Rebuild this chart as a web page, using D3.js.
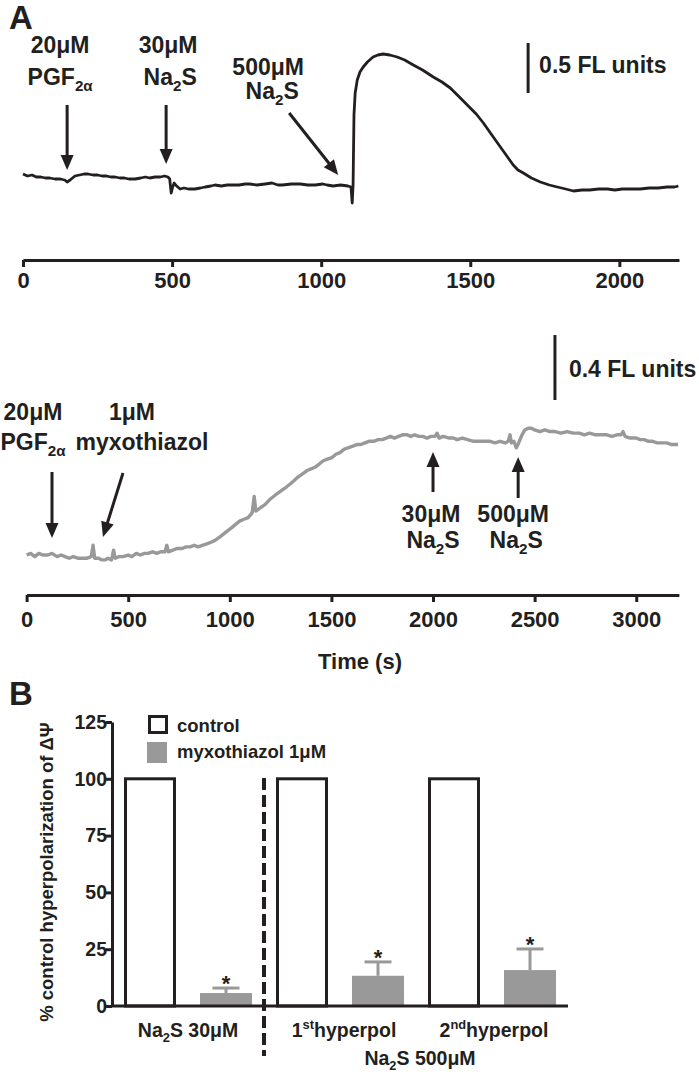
<!DOCTYPE html>
<html>
<head>
<meta charset="utf-8">
<script src="https://cdn.jsdelivr.net/npm/d3@7"></script>
<style>
  body { margin: 0; background: #fff; }
  svg { display: block; }
  text { font-family: "Liberation Sans", Arial, Helvetica, sans-serif; font-weight: bold; fill: #231f20; }
</style>
</head>
<body>
<svg id="chart" width="699" height="1074"></svg>
<script>
// ---- data: panel A, upper trace (control), time in s, fluorescence in FL units ----
const topTrace = [[0,0.01],[15,-0.01],[30,0.00],[45,-0.02],[60,-0.02],[75,-0.03],[90,-0.03],[107,-0.04],[125,-0.04],[140,-0.05],[148,-0.07],[158,-0.05],[174,-0.01],[190,0.00],[205,0.01],[218,0.01],[235,0.00],[250,0.00],[265,-0.01],[280,-0.01],[295,-0.02],[309,-0.02],[325,-0.03],[340,-0.03],[355,-0.04],[376,-0.04],[395,-0.03],[410,-0.02],[425,-0.03],[443,-0.02],[460,-0.02],[475,-0.01],[486,-0.02],[492,-0.04],[497,-0.18],[502,-0.12],[507,-0.08],[515,-0.11],[527,-0.14],[540,-0.13],[555,-0.14],[577,-0.14],[595,-0.13],[611,-0.12],[630,-0.11],[644,-0.10],[665,-0.11],[685,-0.10],[700,-0.10],[725,-0.10],[745,-0.09],[760,-0.09],[785,-0.10],[812,-0.09],[835,-0.08],[855,-0.10],[870,-0.10],[900,-0.09],[930,-0.09],[955,-0.10],[980,-0.10],[1005,-0.09],[1020,-0.10],[1040,-0.11],[1065,-0.10],[1090,-0.11],[1100,-0.12],[1104,-0.28],[1107,-0.10],[1110,0.60],[1114,0.82],[1121,0.95],[1130,1.03],[1141,1.08],[1155,1.13],[1174,1.18],[1190,1.20],[1208,1.21],[1230,1.20],[1255,1.18],[1280,1.15],[1309,1.10],[1340,1.05],[1376,0.98],[1405,0.93],[1433,0.87],[1460,0.79],[1490,0.70],[1520,0.61],[1544,0.52],[1570,0.41],[1601,0.28],[1625,0.18],[1644,0.10],[1660,0.05],[1678,0.02],[1705,-0.03],[1735,-0.07],[1765,-0.10],[1792,-0.12],[1820,-0.14],[1846,-0.16],[1875,-0.15],[1900,-0.15],[1930,-0.14],[1960,-0.14],[1985,-0.15],[2010,-0.14],[2040,-0.14],[2070,-0.14],[2100,-0.13],[2130,-0.13],[2160,-0.12],[2185,-0.12],[2198,-0.11]];

// ---- data: panel A, lower trace (myxothiazol) ----
const midTrace = [[0,0.00],[20,0.01],[40,-0.01],[60,0.01],[80,0.00],[105,0.00],[125,0.01],[150,-0.01],[170,0.00],[189,-0.01],[210,-0.02],[230,-0.01],[255,-0.02],[273,-0.02],[295,-0.02],[318,-0.01],[327,0.06],[335,-0.02],[355,-0.02],[370,-0.03],[386,-0.03],[400,-0.02],[418,-0.03],[428,0.03],[436,-0.02],[455,-0.01],[475,-0.01],[500,0.00],[518,-0.01],[540,0.01],[560,0.00],[580,0.01],[597,0.01],[620,0.02],[640,0.01],[660,0.02],[681,0.02],[690,0.06],[698,0.02],[720,0.03],[740,0.04],[765,0.04],[785,0.05],[805,0.05],[825,0.06],[843,0.05],[865,0.06],[890,0.07],[910,0.08],[927,0.09],[950,0.11],[970,0.13],[990,0.15],[1011,0.17],[1030,0.19],[1050,0.21],[1070,0.22],[1090,0.23],[1110,0.26],[1120,0.36],[1128,0.27],[1150,0.29],[1173,0.31],[1195,0.34],[1215,0.36],[1235,0.38],[1257,0.40],[1280,0.42],[1300,0.44],[1318,0.46],[1335,0.48],[1358,0.50],[1380,0.52],[1400,0.53],[1419,0.54],[1440,0.56],[1460,0.58],[1480,0.59],[1503,0.60],[1522,0.62],[1542,0.63],[1562,0.65],[1582,0.66],[1605,0.67],[1626,0.68],[1645,0.68],[1665,0.69],[1685,0.70],[1708,0.70],[1730,0.71],[1750,0.71],[1770,0.72],[1790,0.73],[1810,0.72],[1830,0.73],[1850,0.74],[1872,0.74],[1890,0.73],[1910,0.74],[1930,0.73],[1950,0.73],[1970,0.72],[1990,0.73],[2010,0.73],[2020,0.75],[2030,0.72],[2050,0.73],[2080,0.72],[2100,0.72],[2118,0.71],[2145,0.72],[2170,0.71],[2200,0.70],[2231,0.70],[2255,0.70],[2280,0.70],[2305,0.69],[2330,0.70],[2355,0.69],[2370,0.70],[2379,0.74],[2386,0.69],[2398,0.70],[2410,0.66],[2418,0.68],[2428,0.71],[2438,0.74],[2452,0.77],[2468,0.78],[2485,0.78],[2500,0.77],[2526,0.76],[2550,0.77],[2575,0.76],[2600,0.76],[2630,0.75],[2660,0.76],[2690,0.75],[2720,0.75],[2745,0.74],[2770,0.75],[2800,0.74],[2830,0.74],[2855,0.74],[2880,0.73],[2905,0.74],[2925,0.74],[2935,0.76],[2945,0.73],[2970,0.72],[3000,0.72],[3019,0.71],[3040,0.71],[3060,0.70],[3080,0.70],[3103,0.69],[3130,0.69],[3150,0.69],[3175,0.68],[3206,0.68]];

const topTicks = [0, 500, 1000, 1500, 2000];
const midTicks = [0, 500, 1000, 1500, 2000, 2500, 3000];
const topEvents = [148, 480, 1057];        // additions, s
const midEvents = [125, 376, 2000, 2419];
const topScaleBar = 0.5, midScaleBar = 0.4; // FL units

// ---- data: panel B ----
const groups = ["Na2S 30μM", "1st hyperpol", "2nd hyperpol"];
const series = ["control", "myxothiazol 1μM"];
const controlPct = [100, 100, 100];
const myxoPct = [5.7, 13.3, 15.8];
const myxoSem = [2.2, 6.1, 9.3];
const yTicksB = [0, 25, 50, 75, 100, 125];

const ink = "#231f20", grey = "#999999";
const svg = d3.select("#chart");

// subscript / superscript text helper: parts = [[text, ""|"sub"|"sup"], ...]
function rich(sel, parts, size) {
  let shift = 0;
  parts.forEach(([s, k]) => {
    const target = k === "sub" ? size * 0.28 : k === "sup" ? -size * 0.42 : 0;
    sel.append("tspan")
      .attr("dy", target - shift)
      .attr("font-size", k ? size * 0.66 : size)
      .text(s);
    shift = target;
  });
  return sel;
}

function label(x, y, parts, size, anchor = "middle") {
  const t = svg.append("text").attr("x", x).attr("y", y)
    .attr("text-anchor", anchor).attr("font-size", size);
  return rich(t, parts, size);
}

function arrow(x1, y1, x2, y2) {
  const dx = x2 - x1, dy = y2 - y1, len = Math.hypot(dx, dy);
  const ux = dx / len, uy = dy / len, nx = -uy, ny = ux;
  const head = 15, half = 6.5;
  svg.append("line")
    .attr("x1", x1).attr("y1", y1)
    .attr("x2", x2 - ux * (head - 2)).attr("y2", y2 - uy * (head - 2))
    .attr("stroke", ink).attr("stroke-width", 3);
  const bx = x2 - ux * head, by = y2 - uy * head;
  svg.append("path")
    .attr("d", `M${x2},${y2}L${bx + nx * half},${by + ny * half}L${bx - nx * half},${by - ny * half}Z`)
    .attr("fill", ink);
}

function styleAxis(g, size) {
  g.select(".domain").attr("stroke", ink).attr("stroke-width", 3);
  g.selectAll(".tick line").attr("stroke", ink).attr("stroke-width", 3);
  g.selectAll(".tick text").attr("fill", ink).attr("font-size", size);
}

const fsA = 23; // annotation text size in panel A

// ================= Panel A =================
label(9, 29, [["A", ""]], 33, "start");

const xTop = d3.scaleLinear().domain([0, 2200]).range([23, 679]);
const yTop = d3.scaleLinear().domain([-0.83, 1.32]).range([258, 43]);
const xMid = d3.scaleLinear().domain([0, 3210]).range([26.6, 678.9]);
const yMid = d3.scaleLinear().domain([-0.246, 1.385]).range([595, 330]);

svg.append("path").datum(topTrace)
  .attr("d", d3.line().x(d => xTop(d[0])).y(d => yTop(d[1])))
  .attr("fill", "none").attr("stroke", ink).attr("stroke-width", 2.8)
  .attr("stroke-linejoin", "round");

svg.append("path").datum(midTrace)
  .attr("d", d3.line().x(d => xMid(d[0])).y(d => yMid(d[1])))
  .attr("fill", "none").attr("stroke", grey).attr("stroke-width", 3.4)
  .attr("stroke-linejoin", "round");

svg.append("g").attr("transform", "translate(0,260)")
  .call(d3.axisBottom(xTop).tickValues(topTicks).tickFormat(d3.format("d"))
    .tickSize(7).tickPadding(5).tickSizeOuter(0))
  .call(g => styleAxis(g, 22));

svg.append("g").attr("transform", "translate(0,595)")
  .call(d3.axisBottom(xMid).tickValues(midTicks).tickFormat(d3.format("d"))
    .tickSize(7).tickPadding(9).tickSizeOuter(0))
  .call(g => styleAxis(g, 22));

label(360, 669, [["Time (s)", ""]], 22);

// scale bars
const sbTopX = xTop(1694), sbMidX = xMid(2600);
svg.append("line").attr("x1", sbTopX).attr("x2", sbTopX)
  .attr("y1", yTop(0.82)).attr("y2", yTop(0.82 + topScaleBar))
  .attr("stroke", ink).attr("stroke-width", 3);
label(sbTopX + 11, 73, [["0.5 FL units", ""]], fsA, "start");
svg.append("line").attr("x1", sbMidX).attr("x2", sbMidX)
  .attr("y1", yMid(0.954)).attr("y2", yMid(0.954 + midScaleBar))
  .attr("stroke", ink).attr("stroke-width", 3);
label(sbMidX + 14, 377, [["0.4 FL units", ""]], fsA, "start");

// upper trace annotations
const mu = "μ";
let ex = xTop(topEvents[0]);
arrow(ex, 105, ex, 170);
label(ex - 7, 53, [["20" + mu + "M", ""]], fsA);
label(ex - 7, 85, [["PGF", ""], ["2α", "sub"]], fsA);
ex = xTop(topEvents[1]);
arrow(ex, 105, ex, 164);
label(ex + 2, 53, [["30" + mu + "M", ""]], fsA);
label(ex + 4, 85, [["Na", ""], ["2", "sub"], ["S", ""]], fsA);
ex = xTop(topEvents[2]);
arrow(ex - 49, 113, ex, 175);
label(ex - 70, 75, [["500" + mu + "M", ""]], fsA);
label(ex - 66, 99, [["Na", ""], ["2", "sub"], ["S", ""]], fsA);

// lower trace annotations
ex = xMid(midEvents[0]);
arrow(ex, 472, ex, 538);
label(ex - 19, 420, [["20" + mu + "M", ""]], fsA);
label(ex - 19, 450, [["PGF", ""], ["2α", "sub"]], fsA);
ex = xMid(midEvents[1]);
arrow(ex + 20, 473, ex, 537);
label(ex + 29, 420, [["1" + mu + "M", ""]], fsA);
label(ex + 39, 450, [["myxothiazol", ""]], fsA);
ex = xMid(midEvents[2]);
arrow(ex, 492, ex, 452);
label(ex - 2, 522, [["30" + mu + "M", ""]], fsA);
label(ex, 548, [["Na", ""], ["2", "sub"], ["S", ""]], fsA);
ex = xMid(midEvents[3]);
arrow(ex, 498, ex, 457);
label(ex - 5, 522, [["500" + mu + "M", ""]], fsA);
label(ex - 2, 548, [["Na", ""], ["2", "sub"], ["S", ""]], fsA);

// ================= Panel B =================
label(9, 705, [["B", ""]], 33, "start");

const keys = groups.flatMap((g, i) => series.map((s, j) => ({ g: i, s: j })));
const xB = d3.scaleBand().domain(keys.map(k => k.g + "-" + k.s))
  .range([112, 568]).paddingInner(0.316).paddingOuter(0.158);
const yB = d3.scaleLinear().domain([0, 125]).range([1006, 722]);

const barData = keys.map(k => ({
  key: k.g + "-" + k.s,
  s: k.s,
  v: k.s === 0 ? controlPct[k.g] : myxoPct[k.g],
  e: k.s === 0 ? 0 : myxoSem[k.g]
}));

// grey bars + error bars
const myxo = barData.filter(d => d.s === 1);
const mid = d => xB(d.key) + xB.bandwidth() / 2;
svg.selectAll(".bar-m").data(myxo).enter().append("rect")
  .attr("x", d => xB(d.key)).attr("width", xB.bandwidth())
  .attr("y", d => yB(d.v)).attr("height", d => yB(0) - yB(d.v))
  .attr("fill", grey);
svg.selectAll(".err").data(myxo).enter().append("line")
  .attr("x1", mid).attr("x2", mid)
  .attr("y1", d => yB(d.v)).attr("y2", d => yB(d.v + d.e))
  .attr("stroke", grey).attr("stroke-width", 3);
svg.selectAll(".cap").data(myxo).enter().append("line")
  .attr("x1", d => mid(d) - 13.5).attr("x2", d => mid(d) + 13.5)
  .attr("y1", d => yB(d.v + d.e)).attr("y2", d => yB(d.v + d.e))
  .attr("stroke", grey).attr("stroke-width", 3);
svg.selectAll(".star").data(myxo).enter().append("text")
  .attr("x", mid).attr("y", d => yB(d.v + d.e) + 3)
  .attr("text-anchor", "middle").attr("font-size", 22).text("*");

// control bars
svg.selectAll(".bar-c").data(barData.filter(d => d.s === 0)).enter().append("rect")
  .attr("x", d => xB(d.key) + 1.5).attr("width", xB.bandwidth() - 3)
  .attr("y", d => yB(d.v)).attr("height", d => yB(0) - yB(d.v))
  .attr("fill", "#fff").attr("stroke", ink).attr("stroke-width", 3);

// axes
svg.append("g").attr("transform", "translate(112,0)")
  .call(d3.axisLeft(yB).tickValues(yTicksB).tickSize(6).tickPadding(-1).tickSizeOuter(0))
  .call(g => styleAxis(g, 19.5));
svg.append("line").attr("x1", xB.range()[0]).attr("x2", xB.range()[1])
  .attr("y1", yB(0)).attr("y2", yB(0)).attr("stroke", ink).attr("stroke-width", 3);

// divider between Na2S doses
const divX = xB.range()[0] + xB.step() * 2;
svg.append("line").attr("x1", divX).attr("x2", divX).attr("y1", 778).attr("y2", 1056)
  .attr("stroke", ink).attr("stroke-width", 4).attr("stroke-dasharray", "12,5");

// category labels
const groupCenter = i => (xB(i + "-0") + xB(i + "-1") + xB.bandwidth()) / 2;
label(groupCenter(0), 1037, [["Na", ""], ["2", "sub"], ["S 30" + mu + "M", ""]], 19.5);
label(groupCenter(1) + 4, 1037, [["1", ""], ["st", "sup"], ["hyperpol", ""]], 19.5);
label(groupCenter(2) + 2, 1037, [["2", ""], ["nd", "sup"], ["hyperpol", ""]], 19.5);
label((groupCenter(1) + groupCenter(2)) / 2 + 4, 1065, [["Na", ""], ["2", "sub"], ["S 500" + mu + "M", ""]], 19.5);

// y label
svg.append("text").attr("transform", "translate(53,872) rotate(-90)")
  .attr("text-anchor", "middle").attr("font-size", 18.5)
  .text("% control hyperpolarization of ΔΨ");

// legend
const legY = [715, 742];
svg.append("rect").attr("x", 149.5).attr("y", legY[0] + 1.5).attr("width", 17).attr("height", 16)
  .attr("fill", "#fff").attr("stroke", ink).attr("stroke-width", 3);
svg.append("rect").attr("x", 147).attr("y", legY[1]).attr("width", 20).attr("height", 21)
  .attr("fill", grey);
label(177, 732, [[series[0], ""]], 18.5, "start");
label(177, 758, [[series[1], ""]], 18.5, "start");
</script>
</body>
</html>
